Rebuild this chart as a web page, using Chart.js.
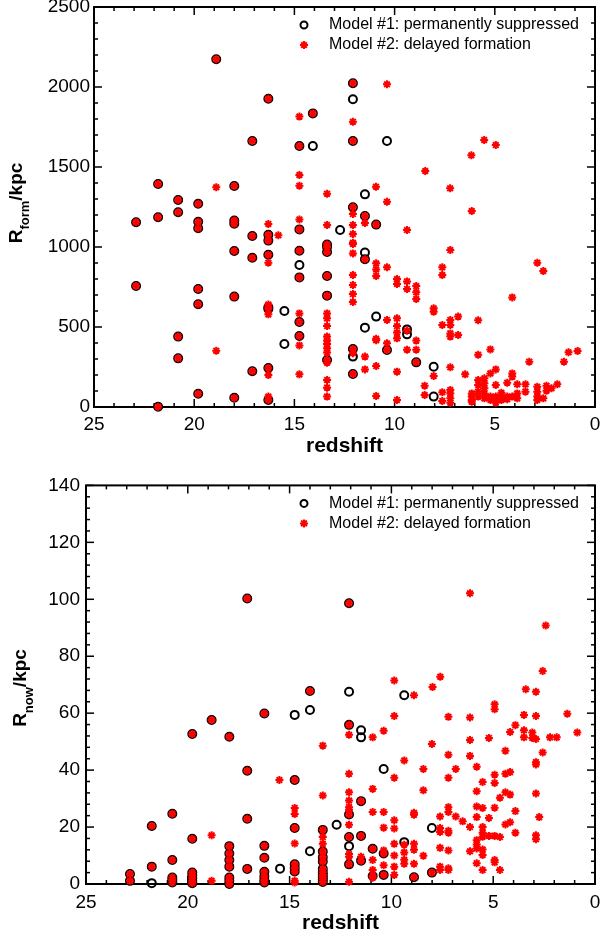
<!DOCTYPE html>
<html>
<head>
<meta charset="utf-8">
<script src="https://cdn.jsdelivr.net/npm/chart.js@4.4.1/dist/chart.umd.min.js"></script>
<style>
  html, body { margin: 0; padding: 0; background: #fff; overflow: hidden; }
  #wrap { position: relative; width: 600px; height: 936px; overflow: hidden; }
  .box { position: absolute; left: 0; width: 615px; }
  #topBox { top: -10px; height: 478px; }
  #botBox { top: 468px; height: 468px; }
</style>
</head>
<body>
<div id="wrap">
  <div class="box" id="topBox"><canvas id="formChart"></canvas></div>
  <div class="box" id="botBox"><canvas id="nowChart"></canvas></div>
</div>
<script>
// [redshift, radius]
// "both" = haloes that appear in both models (circle with a star inside)
const formBoth = [
  [18.9, 2173], [16.3, 1927], [17.1, 1662], [14.75, 1631], [21.8, 1394], [18.0, 1381],
  [20.8, 1294], [19.8, 1270], [20.8, 1217], [21.8, 1186], [22.9, 1155], [19.8, 1158],
  [19.8, 1117], [18.0, 1165], [18.0, 1145], [17.1, 1069], [16.3, 1077], [16.3, 1040],
  [18.0, 975], [16.3, 952], [17.1, 933], [22.9, 756], [19.8, 737], [19.8, 642],
  [18.0, 690], [16.3, 623], [16.3, 612], [20.8, 440], [20.8, 304], [17.1, 223],
  [16.3, 244], [19.8, 83], [18.0, 58], [16.3, 44], [21.8, 2],
  [14.75, 1110], [14.75, 977], [14.75, 810], [14.75, 531], [14.75, 444],
  [14.08, 1835], [12.08, 2023], [12.08, 1662], [12.08, 1248], [11.48, 1194], [10.92, 1140],
  [13.37, 1015], [13.37, 1000], [13.37, 969], [13.37, 819], [13.37, 696], [13.37, 294],
  [11.48, 923], [12.08, 362], [12.08, 206], [10.38, 356], [8.92, 279]
];
const formM1 = [
  [15.5, 600], [15.5, 394], [14.75, 887], [14.08, 1631], [12.08, 1923], [10.38, 1662],
  [11.48, 1329], [12.72, 1106], [11.48, 965], [10.92, 565], [11.48, 496], [9.38, 485],
  [9.38, 454], [12.08, 315], [8.05, 252], [8.05, 65]
];
const formM2 = [
  [18.9, 1373], [14.75, 1815], [14.75, 1450], [14.75, 1383], [14.75, 1172], [16.3, 1144],
  [15.8, 1073], [16.3, 902], [16.3, 640], [16.3, 579], [18.9, 352], [16.3, 200], [16.3, 65],
  [14.75, 585], [14.75, 385], [14.75, 204],
  [12.08, 1783], [10.38, 2017], [5.53, 1669], [4.95, 1637], [6.17, 1573], [8.47, 1475],
  [7.23, 1367], [13.37, 1333], [10.93, 1377], [10.38, 1283], [6.15, 1225], [11.48, 1150],
  [9.38, 1106],
  [12.08, 1206], [12.08, 1138], [12.08, 1081], [12.08, 1027], [12.08, 1019], [12.08, 960],
  [12.08, 825], [12.08, 763], [12.08, 706], [12.08, 656], [12.08, 336],
  [13.37, 1138], [13.37, 585], [13.37, 554], [13.37, 506], [13.37, 440], [13.37, 415],
  [13.37, 394], [13.37, 367], [13.37, 340], [13.37, 277], [13.37, 169], [13.37, 121], [13.37, 65],
  [10.92, 898], [10.92, 860], [10.92, 819], [10.92, 427], [10.92, 417], [10.92, 256], [10.92, 69],
  [10.38, 873], [10.38, 544], [10.38, 398], [11.48, 315], [11.48, 235],
  [9.88, 800], [9.88, 769], [9.88, 554], [9.88, 506], [9.88, 465], [9.88, 429], [9.88, 221], [9.88, 44],
  [9.38, 785], [9.38, 738], [9.38, 478], [9.38, 358],
  [8.92, 756], [8.92, 717], [8.92, 675], [8.92, 415], [8.92, 358],
  [8.05, 617], [8.05, 596], [8.05, 194], [8.5, 133], [8.5, 75],
  [7.62, 873], [7.62, 825], [7.62, 513], [7.62, 92], [7.62, 38],
  [7.22, 981], [7.22, 544], [7.22, 513], [7.22, 460], [7.22, 440], [7.22, 248],
  [7.22, 106], [7.22, 85], [7.22, 54], [7.22, 27],
  [6.83, 565], [6.83, 450], [6.48, 204],
  [6.15, 85], [6.15, 65], [6.15, 44], [6.15, 33],
  [5.83, 542], [5.83, 327], [5.83, 169], [5.83, 138], [5.83, 96], [5.83, 65],
  [5.52, 179], [5.52, 148], [5.52, 117], [5.52, 85], [5.52, 54],
  [5.22, 360], [5.22, 210], [5.22, 65], [5.22, 44],
  [4.95, 235], [4.95, 138], [4.95, 65], [4.95, 44], [4.95, 27],
  [4.67, 89], [4.67, 60], [4.67, 44], [4.38, 152], [4.38, 65], [4.38, 48],
  [4.13, 685], [4.13, 210], [4.13, 190], [4.13, 65],
  [3.88, 142], [3.88, 85], [3.88, 54], [3.47, 142], [3.47, 96], [3.28, 283],
  [2.88, 902], [2.88, 127], [2.88, 96], [2.88, 65], [2.88, 44],
  [2.58, 850], [2.58, 54], [2.42, 133], [2.42, 102], [2.17, 117], [1.88, 142],
  [1.55, 283], [1.32, 342], [0.87, 350]
];

const nowBoth = [
  [17.08, 100.3], [12.08, 98.6], [14.0, 67.8],
  [22.84, 3.5], [22.84, 1.1], [21.77, 20.4], [21.77, 6.1],
  [20.76, 24.7], [20.76, 8.4], [20.76, 2.3], [20.76, 1.4], [20.76, 0.5],
  [19.78, 52.7], [19.78, 15.9], [19.78, 4.0], [19.78, 3.0], [19.78, 2.0], [19.78, 1.0], [19.78, 0.3],
  [18.83, 57.6],
  [17.96, 51.7], [17.96, 13.3], [17.96, 10.7], [17.96, 8.4], [17.96, 6.1], [17.96, 2.3], [17.96, 1.1], [17.96, 0],
  [17.08, 39.8], [17.08, 22.9], [17.08, 5.3],
  [16.24, 59.9], [16.24, 13.4], [16.24, 9.2], [16.24, 4.3], [16.24, 2.6], [16.24, 1.4], [16.24, 0.5],
  [14.75, 36.5], [14.75, 19.7], [14.75, 6.9], [14.75, 5.6], [14.75, 4.4],
  [12.08, 55.9], [12.08, 24.4], [12.08, 16.5], [12.08, 6.9],
  [13.37, 19.0], [13.37, 11.4], [13.37, 9.4], [13.37, 7.9], [13.37, 5.3], [13.37, 4.1],
  [13.37, 3.2], [13.37, 2.4], [13.37, 1.6], [13.37, 0.7],
  [11.49, 29.1], [11.49, 16.9], [11.49, 8.2], [10.92, 12.4], [10.92, 2.8],
  [10.38, 10.7], [10.38, 3.2], [8.89, 2.4], [8.01, 4.0]
];
const nowM1 = [
  [21.77, 0.3], [15.47, 5.4], [14.75, 59.4], [14.0, 61.1], [12.08, 67.5], [9.37, 66.3],
  [11.49, 54.0], [11.49, 51.5], [10.38, 40.4], [12.69, 20.8], [14.0, 11.5], [12.08, 13.3],
  [9.37, 14.7], [8.01, 19.7]
];
const nowM2 = [
  [18.83, 17.1], [18.83, 1.1], [15.5, 36.5], [14.75, 26.7], [14.75, 24.6], [14.75, 14.2],
  [14.75, 1.1], [14.75, 0.5],
  [13.37, 48.6], [13.37, 31.1], [13.37, 16.5], [13.37, 14.1],
  [12.08, 52.4], [12.08, 38.7], [12.08, 32.2], [12.08, 29.3], [12.08, 27.0], [12.08, 26.1],
  [12.08, 20.8], [12.08, 10.5], [12.08, 9.6], [12.08, 0.8], [11.49, 9.6],
  [10.92, 51.5], [10.92, 33.4], [10.92, 25.3], [10.92, 8.4], [10.92, 4.9], [10.92, 2.2],
  [10.38, 53.8], [10.38, 25.3], [10.38, 19.8], [10.38, 11.8], [10.38, 6.6],
  [9.86, 71.5], [9.86, 59.0], [9.86, 37.3], [9.86, 22.4], [9.86, 19.5], [9.86, 14.1],
  [9.86, 10.0], [9.86, 6.1], [9.86, 3.2],
  [9.37, 43.4], [9.37, 13.8], [9.37, 11.1], [9.37, 8.5], [9.37, 7.1],
  [8.89, 66.3], [8.89, 25.0], [8.89, 24.3], [8.89, 14.1], [8.89, 12.0], [8.89, 7.1],
  [8.43, 40.4], [8.43, 32.9], [8.43, 9.9], [7.98, 69.2], [8.01, 49.2],
  [7.6, 72.8], [7.61, 23.7], [7.61, 19.7], [7.61, 18.3], [7.61, 12.7], [7.61, 6.1], [7.61, 4.9],
  [7.2, 58.7], [7.2, 45.4], [7.2, 37.3], [7.2, 27.0], [7.2, 25.3], [7.2, 18.7], [7.2, 18.0],
  [7.2, 11.8], [7.2, 5.5], [7.2, 4.9],
  [6.84, 40.4], [6.84, 23.7], [6.5, 22.0],
  [6.14, 102.1], [6.14, 58.5], [6.14, 50.6], [6.14, 45.0], [6.14, 20.0], [6.14, 11.5],
  [5.81, 41.2], [5.81, 32.6], [5.81, 27.2], [5.81, 23.5], [5.81, 15.4], [5.81, 13.9],
  [5.81, 12.5], [5.81, 7.3],
  [5.52, 35.8], [5.52, 26.7], [5.52, 20.0], [5.52, 18.0], [5.52, 16.6], [5.52, 12.1],
  [5.52, 10.2], [5.52, 4.9],
  [5.21, 51.3], [5.21, 23.2], [5.21, 16.9],
  [4.93, 63.1], [4.93, 61.4], [4.93, 38.4], [4.93, 35.5], [4.93, 26.8], [4.93, 16.9],
  [4.93, 8.4], [4.93, 7.6],
  [4.67, 30.3], [4.67, 16.5], [4.67, 4.9],
  [4.4, 46.8], [4.4, 38.7], [4.4, 32.2], [4.4, 20.9],
  [4.17, 53.4], [4.17, 39.3], [4.17, 31.4], [4.17, 21.7],
  [3.91, 55.8], [3.91, 25.6], [3.91, 18.0],
  [3.49, 59.4], [3.49, 54.0], [3.49, 51.5], [3.4, 68.4], [3.08, 53.2], [3.08, 51.3],
  [2.9, 67.5], [2.9, 59.0], [2.9, 50.9], [2.9, 42.8], [2.9, 42.0], [2.9, 31.8], [2.9, 17.1], [2.9, 15.7],
  [2.74, 23.5], [2.57, 74.8], [2.57, 46.2], [2.42, 90.8], [2.21, 51.5], [1.88, 51.5],
  [1.36, 59.8], [0.87, 53.2]
];

const xTicks = [25, 20, 15, 10, 5, 0];
const formTicks = [0, 500, 1000, 1500, 2000, 2500];
const nowTicks = [0, 20, 40, 60, 80, 100, 120, 140];
const legendLabels = ['Model #1: permanently suppressed', 'Model #2: delayed formation'];

const FONT = "'Liberation Sans', Arial, Helvetica, sans-serif";
const toXY = arr => arr.map(p => ({ x: p[0], y: p[1] }));

const frame = {
  id: 'frame',
  beforeDatasetsDraw(chart, args, o) {
    const { ctx, chartArea: a, scales: { x, y } } = chart;
    ctx.save();
    ctx.strokeStyle = '#000';
    ctx.lineWidth = 1.5;
    const seg = (x1, y1, x2, y2) => {
      ctx.beginPath(); ctx.moveTo(x1, y1); ctx.lineTo(x2, y2); ctx.stroke();
    };
    for (let v = 0; v <= 25; v++) {
      const px = x.getPixelForValue(v);
      const len = v % 5 === 0 ? 8 : 4;
      seg(px, a.bottom, px, a.bottom - len);
      seg(px, a.top, px, a.top + len);
    }
    for (let v = 0; v <= o.yMax + 0.001; v += o.yMinor) {
      const py = y.getPixelForValue(v);
      const len = Math.abs(v / o.yMajor - Math.round(v / o.yMajor)) < 0.001 ? 8 : 4;
      seg(a.left, py, a.left + len, py);
      seg(a.right, py, a.right - len, py);
    }
    ctx.lineWidth = 2;
    ctx.strokeRect(a.left, a.top, a.right - a.left, a.bottom - a.top);
    ctx.restore();
  },
  afterDraw(chart, args, o) {
    const { ctx, chartArea: a } = chart;
    ctx.save();
    // legend
    const mx = a.right - 291, tx = a.right - 266;
    const rows = [a.top + 18, a.top + 38];
    ctx.lineWidth = 2;
    ctx.strokeStyle = '#000';
    ctx.beginPath(); ctx.arc(mx, rows[0], 3.5, 0, Math.PI * 2); ctx.stroke();
    ctx.strokeStyle = 'rgb(255,0,0)';
    ctx.fillStyle = 'rgb(255,0,0)';
    Chart.helpers.drawPoint(ctx, { pointStyle: 'star', radius: 4, rotation: 0, borderWidth: 2 }, mx, rows[1]);
    ctx.fillStyle = '#000';
    ctx.font = '16px ' + FONT;
    ctx.textBaseline = 'middle';
    ctx.textAlign = 'left';
    ctx.fillText(legendLabels[0], tx, rows[0]);
    ctx.fillText(legendLabels[1], tx, rows[1]);
    // x title
    ctx.font = 'bold 21px ' + FONT;
    ctx.textAlign = 'center';
    ctx.textBaseline = 'alphabetic';
    ctx.fillText('redshift', (a.left + a.right) / 2, a.bottom + 45);
    // y title with subscript
    ctx.translate(o.titleX, o.titleY);
    ctx.rotate(-Math.PI / 2);
    ctx.textAlign = 'left';
    ctx.font = 'bold 19px ' + FONT;
    const wR = ctx.measureText('R').width, wK = ctx.measureText('/kpc').width;
    ctx.font = 'bold 13px ' + FONT;
    const wS = ctx.measureText(o.sub).width;
    let s = -(wR + wS + wK) / 2;
    ctx.font = 'bold 19px ' + FONT;
    ctx.fillText('R', s, 0);
    ctx.font = 'bold 13px ' + FONT;
    ctx.fillText(o.sub, s + wR, 6.5);
    ctx.font = 'bold 19px ' + FONT;
    ctx.fillText('/kpc', s + wR + wS, 0);
    ctx.restore();
  }
};

function makeChart(id, both, m1, m2, cfg) {
  return new Chart(document.getElementById(id), {
    type: 'scatter',
    data: {
      datasets: [
        {
          label: legendLabels[0],
          data: toXY(both.concat(m1)),
          pointStyle: 'circle',
          pointRadius: 4,
          pointBorderWidth: 2,
          borderColor: '#000',
          backgroundColor: 'rgba(0,0,0,0)',
          order: 2,
          clip: false
        },
        {
          label: legendLabels[1],
          data: toXY(both.concat(m2)),
          pointStyle: 'star',
          pointRadius: 4,
          pointBorderWidth: 2,
          borderColor: 'rgb(255,0,0)',
          backgroundColor: 'rgb(255,0,0)',
          order: 1,
          clip: false
        }
      ]
    },
    options: {
      responsive: true,
      maintainAspectRatio: false,
      animation: false,
      devicePixelRatio: 1,
      layout: { padding: { top: cfg.padTop, right: 20, left: 0, bottom: 0 } },
      scales: {
        x: {
          type: 'linear',
          reverse: true,
          min: 0,
          max: 25,
          afterBuildTicks: s => { s.ticks = xTicks.map(v => ({ value: v })); },
          afterFit: s => { s.height = cfg.xHeight; },
          grid: { display: false, drawTicks: false },
          border: { display: false },
          ticks: {
            color: '#000', font: { family: FONT, size: 19 }, padding: cfg.xPad, maxRotation: 0,
            callback: v => String(v)
          }
        },
        y: {
          type: 'linear',
          min: 0,
          max: cfg.yMax,
          afterBuildTicks: s => { s.ticks = cfg.yTicks.map(v => ({ value: v })); },
          afterFit: s => { s.width = cfg.yWidth; },
          grid: { display: false, drawTicks: false },
          border: { display: false },
          ticks: {
            color: '#000', font: { family: FONT, size: 19 }, padding: cfg.yPad,
            callback: v => String(v)
          }
        }
      },
      plugins: {
        legend: { display: false },
        tooltip: { enabled: false },
        frame: {
          yMax: cfg.yMax, yMinor: cfg.yMinor, yMajor: cfg.yMajor,
          sub: cfg.sub, titleX: cfg.titleX, titleY: cfg.titleY
        }
      }
    },
    plugins: [frame]
  });
}

makeChart('formChart', formBoth, formM1, formM2, {
  padTop: 17, xHeight: 61, yWidth: 94, xPad: 6, yPad: 4,
  yMax: 2500, yMinor: 100, yMajor: 500, yTicks: formTicks,
  sub: 'form', titleX: 22, titleY: 213
});
makeChart('nowChart', nowBoth, nowM1, nowM2, {
  padTop: 15.5, xHeight: 52, yWidth: 86, xPad: 7, yPad: 6,
  yMax: 140, yMinor: 4, yMajor: 20, yTicks: nowTicks,
  sub: 'now', titleX: 26, titleY: 220
});
</script>
</body>
</html>
